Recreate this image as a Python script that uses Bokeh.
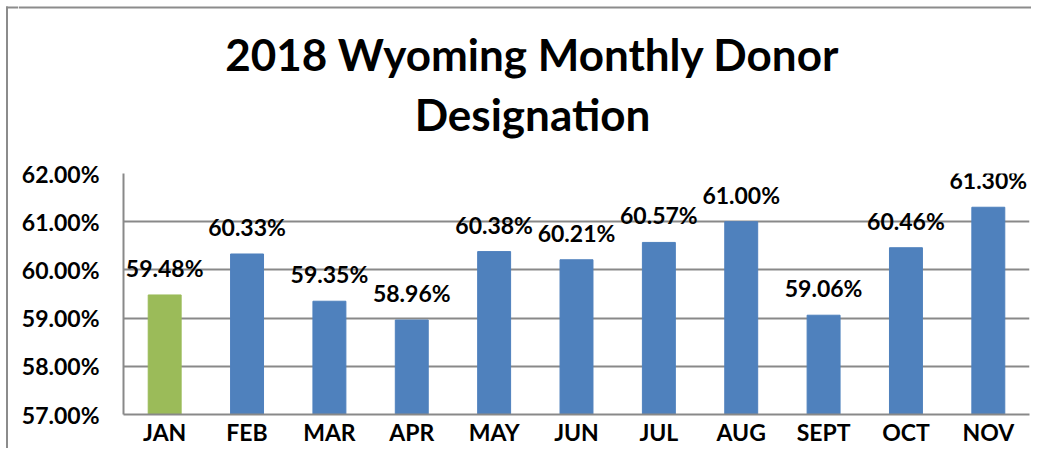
from bokeh.plotting import figure
from bokeh.layouts import column, row
from bokeh.models import (ColumnDataSource, LabelSet, Range1d,
                          FixedTicker, PrintfTickFormatter)
from bokeh.core.properties import value
from bokeh.embed import file_html
from bokeh.resources import INLINE

# ---- data ----
months = ["JAN", "FEB", "MAR", "APR", "MAY", "JUN", "JUL", "AUG", "SEPT", "OCT", "NOV"]
values = [59.48, 60.33, 59.35, 58.96, 60.38, 60.21, 60.57, 61.00, 59.06, 60.46, 61.30]
value_labels = ["59.48%", "60.33%", "59.35%", "58.96%", "60.38%", "60.21%",
                "60.57%", "61.00%", "59.06%", "60.46%", "61.30%"]
y_ticks = [57, 58, 59, 60, 61, 62]
title_lines = ["2018 Wyoming Monthly Donor", "Designation"]

Y_MIN, Y_MAX = 57, 62
GREEN = "#9BBB59"
BLUE = "#4F81BD"
GRID = "#898989"
BORDER = "#8C8C8C"
FONT = "Lato"
W, H = 1031, 448
HT = 140          # title strip height
WL = 18           # left border strip width
WR = W - WL       # width of title strip and chart


def bare(fig):
    fig.axis.visible = False
    fig.grid.visible = False
    fig.outline_line_color = None
    return fig


# ---- left border strip (full height) ----
l = bare(figure(x_range=Range1d(0, WL), y_range=Range1d(0, H), width=WL, height=H,
                output_backend="svg", toolbar_location=None,
                min_border_left=0, min_border_right=0, min_border_top=0,
                min_border_bottom=0))
l.quad(left=[5.5], right=[7.5], bottom=[0], top=[H - 6], fill_color=BORDER,
       line_color=None)
l.quad(left=[5.5], right=[WL], bottom=[H - 8], top=[H - 6], fill_color=BORDER,
       line_color=None)

# ---- title strip ----
t = bare(figure(x_range=Range1d(0, WR), y_range=Range1d(0, HT), width=WR, height=HT,
                output_backend="svg", toolbar_location=None,
                min_border_left=0, min_border_right=0, min_border_top=0,
                min_border_bottom=0))
t.quad(left=[0], right=[WR], bottom=[HT - 8], top=[HT - 6], fill_color=BORDER,
       line_color=None)
tsrc = ColumnDataSource(dict(x=[532 - WL, 532 - WL], y=[HT - 70, HT - 130],
                             text=title_lines))
t.add_layout(LabelSet(x="x", y="y", text="text", source=tsrc, text_align="center",
                      text_baseline="alphabetic", text_font=value(FONT),
                      text_font_style="bold", text_font_size="44px",
                      text_color="#000000"))

# ---- main chart ----
colors = [GREEN] + [BLUE] * (len(months) - 1)
src = ColumnDataSource(dict(month=months, value=values, label=value_labels, color=colors))

p = figure(x_range=months, y_range=Range1d(Y_MIN, Y_MAX),
           width=WR, height=H - HT, output_backend="svg", toolbar_location=None,
           min_border_left=123 - WL, min_border_right=2, min_border_top=173 - HT,
           min_border_bottom=H - 417)

p.vbar(x="month", top="value", bottom=Y_MIN, width=0.4, color="color", source=src)

p.add_layout(LabelSet(x="month", y="value", text="label", source=src,
                      text_align="center", text_baseline="alphabetic", y_offset=18,
                      text_font=value(FONT), text_font_style="bold",
                      text_font_size="23px", text_color="#000000"))

p.yaxis.ticker = FixedTicker(ticks=y_ticks)
p.yaxis.formatter = PrintfTickFormatter(format="%.2f%%")
p.yaxis.major_label_text_font = FONT
p.yaxis.major_label_text_font_style = "bold"
p.yaxis.major_label_text_font_size = "23px"
p.yaxis.major_label_text_color = "#000000"
p.yaxis.major_label_standoff = 24
p.yaxis.major_tick_out = 0
p.yaxis.major_tick_in = 0
p.yaxis.minor_tick_out = 0
p.yaxis.minor_tick_in = 0
p.yaxis.axis_line_color = GRID
p.yaxis.axis_line_width = 2

p.xaxis.major_label_text_font = FONT
p.xaxis.major_label_text_font_style = "bold"
p.xaxis.major_label_text_font_size = "23px"
p.xaxis.major_label_text_color = "#000000"
p.xaxis.major_label_standoff = 3
p.xaxis.major_tick_out = 0
p.xaxis.major_tick_in = 0
p.xaxis.axis_line_color = GRID
p.xaxis.axis_line_width = 2

p.xgrid.grid_line_color = None
p.ygrid.grid_line_color = GRID
p.ygrid.grid_line_width = 2
p.outline_line_color = None

# nesting keeps Bokeh from aligning the strips' frames to the chart frame
layout = row(l, column(t, row(p, spacing=0), spacing=0), spacing=0)
open("out.html", "w").write(file_html(layout, INLINE))
